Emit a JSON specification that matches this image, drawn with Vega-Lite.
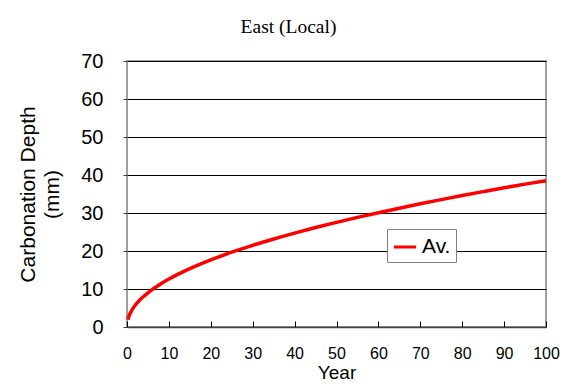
{
  "$schema": "https://vega.github.io/schema/vega-lite/v6.json",
  "width": 419,
  "height": 266,
  "autosize": "none",
  "padding": {"left": 127, "top": 61, "right": 19, "bottom": 60},
  "background": "white",
  "title": {
    "text": "East (Local)",
    "font": "Liberation Serif",
    "fontSize": 19.5,
    "fontWeight": "normal",
    "color": "black",
    "anchor": "middle",
    "dx": -48,
    "offset": 14
  },
  "data": {
    "values": [
      {"year": 0.2, "depth": 1.89, "series": "Av."},
      {"year": 0.5, "depth": 2.95, "series": "Av."},
      {"year": 1, "depth": 4.13, "series": "Av."},
      {"year": 1.5, "depth": 5.03, "series": "Av."},
      {"year": 2, "depth": 5.78, "series": "Av."},
      {"year": 3, "depth": 7.04, "series": "Av."},
      {"year": 4, "depth": 8.09, "series": "Av."},
      {"year": 5, "depth": 9.01, "series": "Av."},
      {"year": 6, "depth": 9.85, "series": "Av."},
      {"year": 7, "depth": 10.61, "series": "Av."},
      {"year": 8, "depth": 11.32, "series": "Av."},
      {"year": 10, "depth": 12.62, "series": "Av."},
      {"year": 12, "depth": 13.78, "series": "Av."},
      {"year": 15, "depth": 15.36, "series": "Av."},
      {"year": 20, "depth": 17.66, "series": "Av."},
      {"year": 25, "depth": 19.68, "series": "Av."},
      {"year": 30, "depth": 21.5, "series": "Av."},
      {"year": 35, "depth": 23.16, "series": "Av."},
      {"year": 40, "depth": 24.71, "series": "Av."},
      {"year": 45, "depth": 26.17, "series": "Av."},
      {"year": 50, "depth": 27.54, "series": "Av."},
      {"year": 55, "depth": 28.84, "series": "Av."},
      {"year": 60, "depth": 30.08, "series": "Av."},
      {"year": 65, "depth": 31.27, "series": "Av."},
      {"year": 70, "depth": 32.42, "series": "Av."},
      {"year": 75, "depth": 33.52, "series": "Av."},
      {"year": 80, "depth": 34.59, "series": "Av."},
      {"year": 85, "depth": 35.62, "series": "Av."},
      {"year": 90, "depth": 36.63, "series": "Av."},
      {"year": 95, "depth": 37.6, "series": "Av."},
      {"year": 100, "depth": 38.5, "series": "Av."}
    ]
  },
  "mark": {"type": "line", "strokeWidth": 3.5, "interpolate": "monotone"},
  "encoding": {
    "x": {
      "field": "year",
      "type": "quantitative",
      "scale": {"domain": [0, 100], "nice": false, "zero": true},
      "axis": {
        "title": "Year",
        "values": [0, 10, 20, 30, 40, 50, 60, 70, 80, 90, 100],
        "grid": false,
        "domain": true,
        "domainColor": "#404040",
        "domainWidth": 1.5,
        "tickColor": "black",
        "tickSize": -6,
        "labelPadding": 24,
        "labelFont": "Liberation Sans",
        "labelFontSize": 16,
        "labelColor": "black",
        "labelFlush": false,
        "titleFont": "Liberation Sans",
        "titleFontSize": 19,
        "titleFontWeight": "normal",
        "titleColor": "black",
        "titlePadding": 2
      }
    },
    "y": {
      "field": "depth",
      "type": "quantitative",
      "scale": {"domain": [0, 70], "nice": false},
      "axis": {
        "title": ["Carbonation Depth", "(mm)"],
        "values": [0, 10, 20, 30, 40, 50, 60, 70],
        "grid": true,
        "gridColor": "black",
        "gridWidth": 1,
        "gridOpacity": 1,
        "domain": false,
        "ticks": true,
        "tickSize": 4,
        "tickColor": "#404040",
        "labelPadding": 20,
        "labelFont": "Liberation Sans",
        "labelFontSize": 20,
        "labelColor": "black",
        "labelFlush": false,
        "titleFont": "Liberation Sans",
        "titleFontSize": 21,
        "titleFontWeight": "normal",
        "titleColor": "black",
        "titlePadding": 18,
        "titleLineHeight": 24
      }
    },
    "color": {
      "field": "series",
      "type": "nominal",
      "scale": {"domain": ["Av."], "range": ["#ff0000"]},
      "legend": {
        "title": null,
        "orient": "none",
        "legendX": 260,
        "legendY": 168,
        "symbolType": "stroke",
        "symbolSize": 500,
        "symbolStrokeWidth": 3,
        "labelFont": "Liberation Sans",
        "labelFontSize": 21,
        "labelColor": "black",
        "strokeColor": "#808080",
        "fillColor": "white",
        "padding": 5
      }
    }
  },
  "config": {
    "view": {"stroke": "#808080", "strokeWidth": 1.5}
  }
}
